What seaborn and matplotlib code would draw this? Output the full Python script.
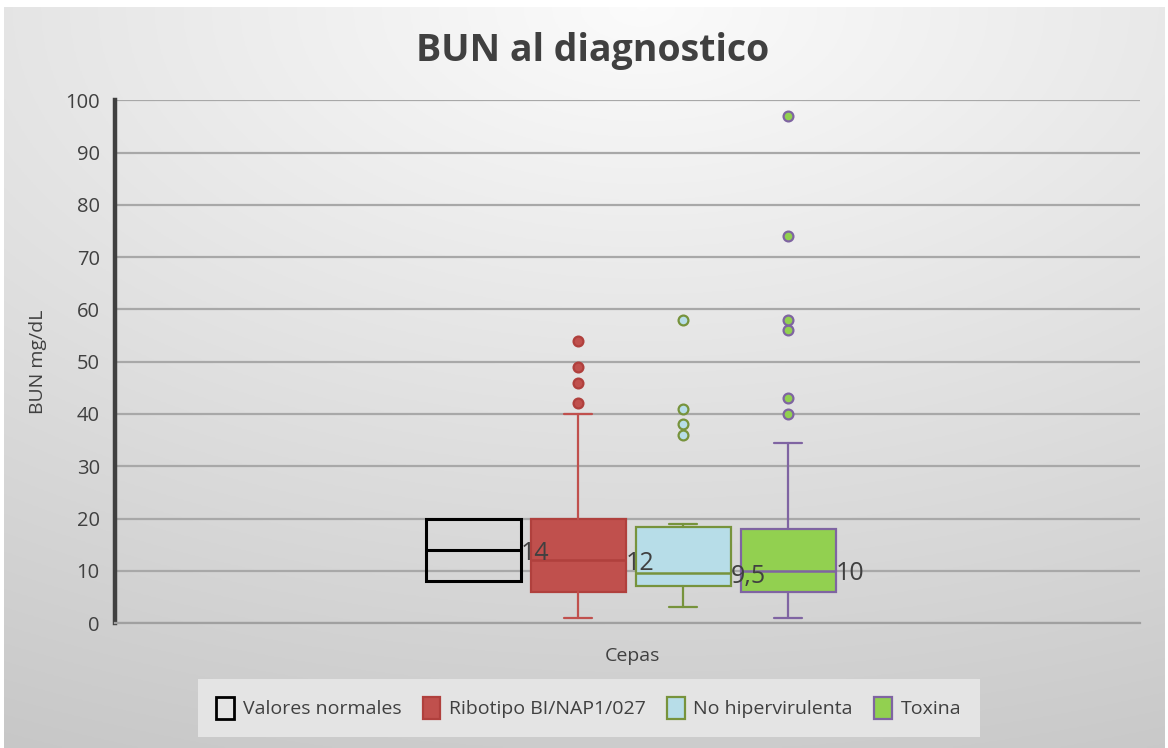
import numpy as np
import pandas as pd
import matplotlib
matplotlib.use("Agg")
import matplotlib.pyplot as plt
from matplotlib.patches import Patch
import seaborn as sns

# ---- data -------------------------------------------------------------
groups = ["Valores normales", "Ribotipo BI/NAP1/027", "No hipervirulenta", "Toxina"]
q1 = [8, 6, 7, 6]
median = [14, 12, 9.5, 10]
q3 = [20, 20, 18.3, 18]
whislo = [8, 1, 3, 1]
whishi = [20, 40, 19, 34.5]
outliers = [
    [],
    [42, 46, 49, 54],
    [36, 38, 41, 58],
    [40, 43, 56, 58, 74, 97],
]
median_labels = ["14", "12", "9,5", "10"]
category = "Cepas"
yticks = list(range(0, 101, 10))

# ---- styling ----------------------------------------------------------
face = ["none", "#c0504d", "#b7dde8", "#92d050"]
edge = ["#000000", "#b0403d", "#77933c", "#7f64a2"]
line_col = ["#000000", "#c0504d", "#77933c", "#7f64a2"]
text_col = "#404040"

sns.set_theme(style="white")
plt.rcParams["font.family"] = ["Open Sans", "DejaVu Sans"]

fig = plt.figure(figsize=(11.68, 7.48), dpi=100)

# soft radial background
bg = fig.add_axes([0.003, 0.0, 0.994, 0.99], zorder=-10)
yy, xx = np.mgrid[0:1:300j, 0:1:400j]
r = np.sqrt(((xx - 0.55) * 1.0) ** 2 + (yy * 1.15) ** 2)
val = np.clip(0.985 - 0.16 * r, 0.78, 1.0)
bg.imshow(np.dstack([val, val, val]), aspect="auto", extent=[0, 1, 1, 0])
bg.set_axis_off()

ax = fig.add_axes([0.0985, 0.167, 0.8775, 0.699])
ax.patch.set_alpha(0)

n = len(groups)
step = 0.1024
width = 0.0927
center = 0.003
offsets = center + (np.arange(n) - (n - 1) / 2) * step

for i in range(n):
    stats = [dict(med=median[i], q1=q1[i], q3=q3[i],
                  whislo=whislo[i], whishi=whishi[i], fliers=[])]
    show_wh = whislo[i] != q1[i] or whishi[i] != q3[i]
    ax.bxp(stats, positions=[offsets[i]], widths=width, patch_artist=True,
           showfliers=False, showcaps=show_wh,
           boxprops=dict(facecolor=face[i], edgecolor=edge[i],
                         linewidth=2.2 if i == 0 else 1.6),
           medianprops=dict(color=edge[i] if i else "#000000",
                            linewidth=2.2 if i == 0 else 1.8),
           whiskerprops=dict(color=line_col[i], linewidth=1.6,
                             alpha=1 if show_wh else 0),
           capprops=dict(color=line_col[i], linewidth=1.6),
           capwidths=0.027, zorder=3)
    ax.text(offsets[i] + width / 2 + 0.0005, median[i] - 0.6, median_labels[i],
            ha="left", va="center", fontsize=18, color=text_col, zorder=5)

# outlier points
flier_df = pd.DataFrame(
    [(offsets[i], v, groups[i]) for i in range(n) for v in outliers[i]],
    columns=["x", "value", "group"])
flier_face = {groups[1]: "#c0504d", groups[2]: "#b7dde8", groups[3]: "#92d050"}
flier_edge = {groups[1]: "#b0403d", groups[2]: "#77933c", groups[3]: "#7f64a2"}
for g, sub in flier_df.groupby("group", sort=False):
    sns.scatterplot(data=sub, x="x", y="value", ax=ax, s=50,
                    color=flier_face[g], edgecolor=flier_edge[g],
                    linewidth=1.6, zorder=4, legend=False)

ax.set_xlim(-0.5, 0.5)
ax.set_ylim(0, 100)
ax.set_yticks(yticks)
ax.set_xticks([])
ax.yaxis.grid(True, color="#a8a8a8", linewidth=1.6, zorder=0)
ax.set_axisbelow(True)
for s in ["top", "right"]:
    ax.spines[s].set_visible(False)
ax.spines["left"].set_color("#404040")
ax.spines["left"].set_linewidth(3.2)
ax.spines["bottom"].set_color("#a0a0a0")
ax.spines["bottom"].set_linewidth(1.6)
ax.tick_params(axis="y", labelsize=14.5, colors=text_col, length=0, pad=11)

ax.set_xlabel(category, fontsize=14, color=text_col, labelpad=18)
ax.xaxis.set_label_coords(0.505, -0.045)
ax.set_ylabel("BUN mg/dL", fontsize=14, color=text_col)
ax.yaxis.set_label_coords(-0.066, 0.5)

fig.text(0.507, 0.932, "BUN al diagnostico", ha="center", va="center",
         fontsize=27, fontweight="bold", color=text_col,
         family=["Open Sans", "DejaVu Sans"])

handles = [Patch(facecolor=face[i] if i else "white", edgecolor=edge[i],
                 linewidth=2 if i == 0 else 1.6, label=groups[i])
           for i in range(n)]
handles[0].set_facecolor((1, 1, 1, 0))
leg = fig.legend(handles=handles, loc="center", bbox_to_anchor=(0.504, 0.0535),
                 ncol=4, frameon=True, fancybox=False, facecolor="#e4e4e4",
                 edgecolor="none", framealpha=1, fontsize=14,
                 handlelength=0.9, handleheight=1.3, handletextpad=0.45,
                 columnspacing=1.1, borderpad=0.95)
for t in leg.get_texts():
    t.set_color(text_col)

fig.savefig("out.png", dpi=100)
